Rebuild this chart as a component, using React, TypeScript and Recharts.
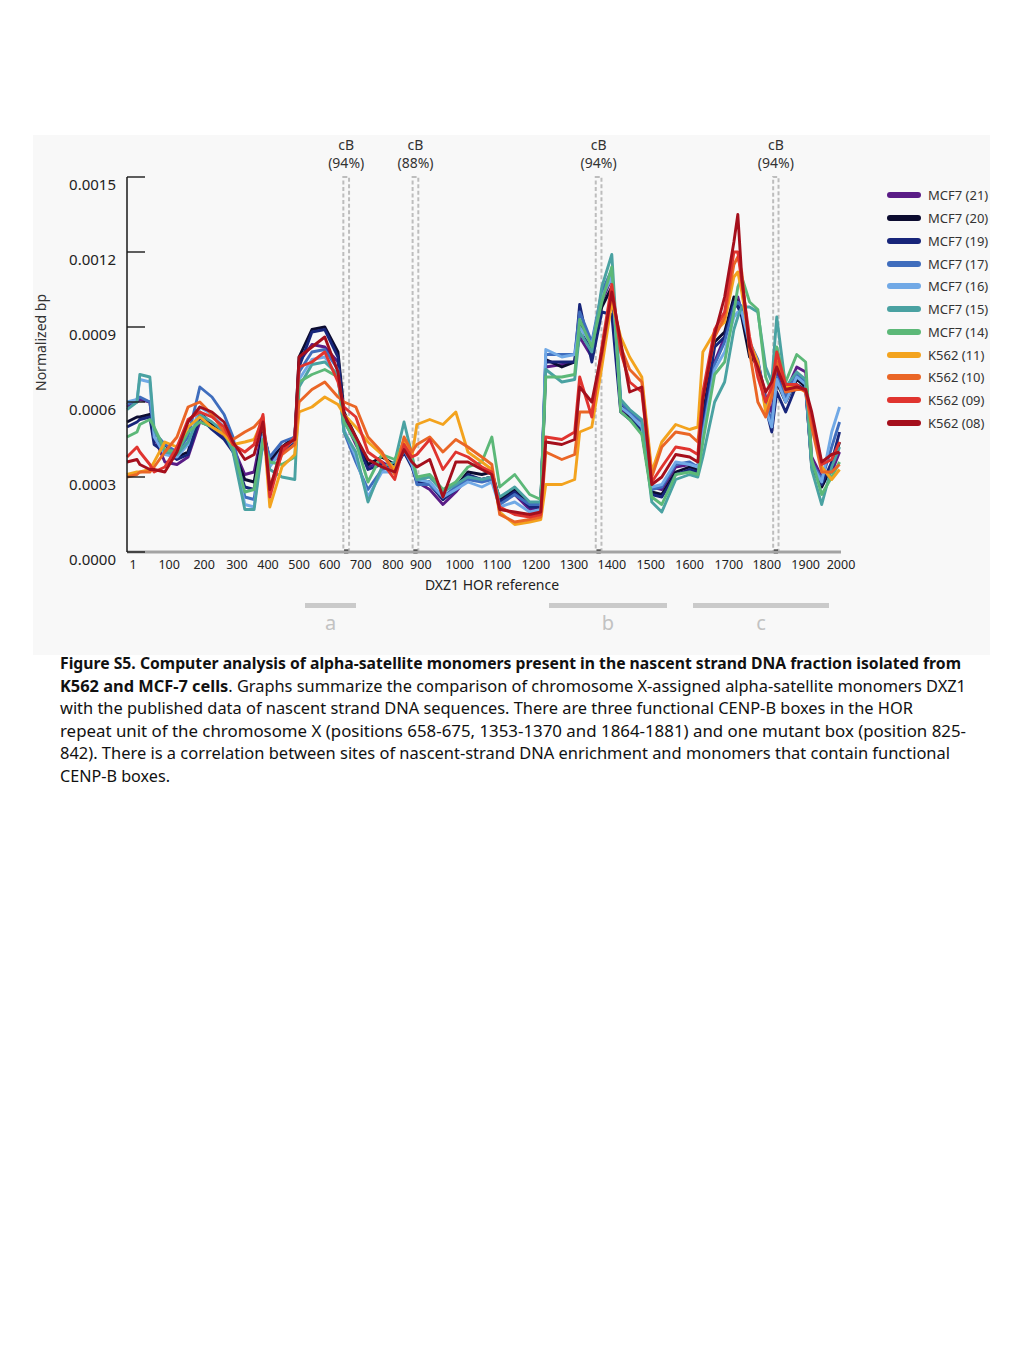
import React from 'react';
import { LineChart, Line, XAxis, YAxis, ReferenceArea, Label } from 'recharts';

// position along the drawn HOR axis (0..2000), shared by every series
const positions = [
  0, 28, 36, 64, 76, 106, 140, 171, 204, 238, 272, 297, 330, 356, 381, 400, 434, 470, 482, 518,
  554, 591, 608, 641, 675, 714, 750, 776, 798, 812, 848, 885, 921, 955, 994, 1022, 1044, 1086, 1128, 1159,
  1173, 1218, 1254, 1268, 1302, 1330, 1358, 1383, 1408, 1442, 1470, 1498, 1537, 1576, 1599, 1613, 1646, 1674, 1700, 1711,
  1722, 1744, 1767, 1789, 1806, 1820, 1845, 1876, 1901, 1918, 1946, 1974, 1996,
];

// values in units of 1e-4 normalized bp
const mcf7_21 = [
  5.8, 6.0, 6.1, 6.0, 4.6, 3.6, 3.5, 3.8, 5.2, 5.0, 4.6, 4.2, 3.1, 3.2, 5.0, 3.6, 4.1, 4.5, 7.6, 8.3,
  8.2, 7.6, 5.3, 4.3, 3.4, 3.6, 3.3, 4.0, 3.5, 2.8, 2.5, 1.9, 2.4, 3.0, 2.9, 3.0, 2.0, 2.3, 1.7, 1.8,
  7.4, 7.5, 7.6, 8.6, 7.8, 10.0, 11.0, 5.7, 5.5, 5.0, 2.6, 2.5, 3.4, 3.5, 3.4, 5.0, 7.6, 8.6, 10.0, 10.2,
  9.6, 8.0, 7.6, 6.2, 5.6, 7.2, 6.4, 7.4, 7.2, 3.8, 3.0, 3.2, 4.0,
];
const mcf7_20 = [
  5.2, 5.4, 5.4, 5.5, 4.5, 4.3, 3.8, 4.0, 5.6, 5.1, 4.8, 4.1, 2.9, 2.8, 4.8, 3.7, 4.2, 4.6, 7.8, 8.9,
  9.0, 8.0, 5.6, 4.6, 3.5, 3.8, 3.5, 4.2, 3.6, 2.9, 2.8, 2.1, 2.6, 3.2, 3.1, 3.2, 2.1, 2.5, 1.9, 1.9,
  7.7, 7.4, 7.6, 9.2, 8.0, 9.8, 10.6, 5.9, 5.4, 4.8, 2.4, 2.3, 3.2, 3.4, 3.3, 5.4, 8.4, 8.8, 10.2, 10.0,
  9.4, 7.8, 7.5, 6.0, 5.0, 6.8, 6.0, 6.9, 6.6, 3.4, 2.6, 3.4, 4.4,
];
const mcf7_19 = [
  5.0, 5.2, 5.3, 5.4, 4.3, 4.0, 3.7, 3.9, 5.4, 4.9, 4.5, 4.0, 2.6, 2.5, 4.6, 3.5, 4.0, 4.4, 7.4, 8.8,
  8.9, 7.8, 5.5, 4.5, 3.3, 3.5, 3.3, 4.0, 3.4, 2.8, 2.7, 2.1, 2.5, 3.1, 2.9, 3.0, 2.0, 2.4, 1.8, 1.8,
  7.6, 7.6, 7.6, 9.9, 7.6, 9.6, 9.5, 5.6, 5.3, 4.9, 2.3, 2.2, 3.1, 3.3, 3.2, 5.2, 8.2, 8.6, 10.0, 9.8,
  9.5, 8.2, 7.4, 5.8, 4.8, 6.4, 5.6, 6.7, 6.5, 3.5, 2.7, 3.6, 4.8,
];
const mcf7_17 = [
  5.9, 6.1, 6.2, 6.0, 4.8, 4.3, 4.0, 4.6, 6.6, 6.2, 5.5, 4.6, 2.2, 2.1, 4.7, 3.8, 4.4, 4.6, 7.2, 8.0,
  8.1, 7.3, 4.8, 3.6, 2.5, 3.3, 3.4, 4.3, 3.6, 2.7, 2.7, 2.2, 2.6, 2.9, 2.8, 2.9, 1.9, 2.3, 1.9, 1.9,
  7.9, 7.9, 7.9, 9.6, 8.4, 10.4, 11.3, 6.0, 5.6, 5.2, 2.5, 2.6, 3.5, 3.6, 3.4, 4.8, 7.5, 8.4, 9.8, 10.0,
  9.8, 8.4, 7.7, 6.0, 5.2, 7.0, 6.2, 7.1, 6.8, 3.6, 2.9, 4.2, 5.2,
];
const mcf7_16 = [
  6.0, 6.1, 6.9, 6.8, 4.6, 3.9, 3.8, 4.3, 5.8, 5.5, 5.0, 4.2, 1.9, 1.8, 4.6, 3.4, 4.1, 4.5, 6.9, 7.7,
  7.8, 7.0, 4.9, 3.8, 2.2, 3.2, 3.2, 4.1, 3.5, 2.9, 2.8, 2.2, 2.5, 2.8, 2.6, 2.8, 1.8, 2.0, 1.6, 1.7,
  8.1, 7.8, 7.9, 9.0, 8.3, 10.2, 11.0, 5.8, 5.5, 5.0, 2.6, 2.7, 3.6, 3.5, 3.4, 4.6, 7.3, 8.0, 9.4, 9.6,
  9.6, 8.3, 7.6, 5.7, 5.0, 6.9, 6.0, 7.0, 6.7, 3.5, 2.8, 4.8, 5.8,
];
const mcf7_15 = [
  5.7, 6.0, 7.1, 7.0, 4.9, 4.0, 3.9, 4.4, 5.5, 5.2, 4.8, 4.0, 1.7, 1.7, 4.4, 3.3, 3.0, 2.9, 6.6, 7.5,
  7.6, 7.1, 4.8, 4.0, 2.0, 3.4, 3.6, 5.2, 3.9, 2.9, 3.0, 2.4, 2.7, 3.0, 2.9, 3.0, 2.2, 2.6, 2.0, 2.0,
  7.3, 6.8, 6.9, 8.8, 8.0, 10.6, 11.9, 6.1, 5.7, 5.3, 2.0, 1.6, 2.9, 3.1, 3.0, 3.8, 6.0, 6.8, 8.9, 9.4,
  9.8, 9.8, 9.6, 7.4, 6.8, 9.4, 6.6, 7.2, 6.9, 3.3, 1.9, 3.4, 4.2,
];
const mcf7_14 = [
  4.6, 4.8, 5.1, 5.3, 5.0, 4.1, 4.0, 4.8, 5.2, 5.0, 4.7, 4.2, 2.4, 2.5, 4.5, 3.6, 3.5, 3.8, 6.8, 7.1,
  7.3, 7.0, 5.2, 4.4, 2.8, 3.9, 3.7, 4.4, 3.8, 3.0, 3.1, 2.5, 2.8, 3.4, 3.6, 4.6, 2.6, 3.1, 2.3, 2.1,
  7.0, 7.0, 7.1, 9.3, 8.2, 10.0, 11.4, 5.6, 5.3, 4.7, 2.2, 1.9, 3.1, 3.2, 3.1, 4.4, 7.1, 7.6, 9.6, 10.6,
  11.0, 10.0, 9.7, 7.0, 6.4, 8.2, 6.8, 7.9, 7.6, 3.7, 2.3, 3.0, 3.6,
];
const k562_11 = [
  3.1, 3.2, 3.2, 3.3, 3.6, 4.4, 4.2, 5.0, 5.4, 5.0, 4.7, 4.3, 4.4, 4.5, 5.3, 1.8, 3.4, 3.9, 5.6, 5.8,
  6.2, 5.9, 5.5, 5.0, 4.4, 3.9, 3.3, 4.5, 3.8, 5.1, 5.3, 5.1, 5.6, 4.0, 3.6, 3.3, 1.6, 1.1, 1.2, 1.3,
  2.7, 2.7, 2.9, 4.8, 5.0, 7.4, 10.0, 8.6, 7.8, 7.0, 3.2, 4.4, 5.1, 4.9, 5.0, 8.0, 8.8, 9.2, 11.0, 11.2,
  10.4, 8.4, 7.6, 5.6, 6.4, 7.8, 6.6, 6.6, 6.4, 5.2, 3.4, 2.9, 3.3,
];
const k562_10 = [
  3.0, 3.1, 3.2, 3.2, 3.4, 4.0, 4.6, 5.8, 6.0, 5.5, 4.8, 4.5, 4.8, 5.0, 5.4, 2.6, 3.9, 4.3, 6.0, 6.5,
  6.8, 6.2, 6.0, 5.8, 4.6, 4.0, 3.1, 4.6, 4.0, 4.3, 4.6, 4.0, 4.5, 4.2, 3.8, 3.5, 1.5, 1.2, 1.3, 1.4,
  4.0, 3.7, 3.9, 5.6, 5.6, 7.8, 10.4, 8.2, 7.3, 6.8, 3.0, 4.2, 4.8, 4.7, 4.4, 6.2, 8.6, 9.4, 11.5, 11.8,
  11.2, 8.0, 6.0, 5.4, 6.2, 7.6, 6.4, 6.5, 6.5, 5.0, 3.2, 3.2, 3.5,
];
const k562_09 = [
  3.8, 4.2, 4.0, 3.5, 3.2, 3.4, 4.2, 5.3, 5.6, 5.4, 5.0, 4.3, 4.0, 4.3, 5.5, 2.2, 4.0, 4.6, 7.4, 7.6,
  8.0, 6.8, 5.8, 5.4, 4.0, 3.6, 2.9, 4.3, 3.8, 3.9, 4.5, 3.3, 4.0, 3.8, 3.4, 3.2, 1.8, 1.5, 1.4, 1.5,
  4.6, 4.5, 4.8, 7.0, 5.4, 8.2, 10.7, 8.0, 6.8, 6.4, 2.8, 3.4, 4.2, 4.1, 3.9, 6.4, 8.9, 9.6, 12.0, 12.0,
  10.8, 8.6, 7.0, 6.0, 6.6, 8.0, 6.7, 6.7, 6.4, 5.4, 3.5, 3.7, 4.4,
];
const k562_08 = [
  3.6, 3.7, 3.5, 3.3, 3.3, 3.2, 4.0, 5.2, 5.8, 5.6, 5.2, 4.4, 3.7, 3.9, 5.2, 2.5, 4.2, 4.5, 7.8, 8.2,
  8.6, 7.2, 5.5, 4.6, 3.7, 3.4, 3.2, 4.1, 3.6, 3.4, 3.7, 2.2, 3.6, 3.6, 3.3, 3.1, 1.7, 1.6, 1.5, 1.6,
  4.4, 4.3, 4.5, 6.6, 6.0, 8.0, 10.4, 8.4, 6.4, 6.6, 2.7, 3.0, 3.9, 3.8, 3.6, 6.1, 8.7, 10.2, 12.4, 13.5,
  11.0, 8.2, 7.4, 6.4, 6.8, 7.4, 6.5, 6.6, 6.5, 5.6, 3.6, 3.9, 4.0,
];

const seriesNames = [
  'MCF7 (21)', 'MCF7 (20)', 'MCF7 (19)', 'MCF7 (17)', 'MCF7 (16)', 'MCF7 (15)', 'MCF7 (14)',
  'K562 (11)', 'K562 (10)', 'K562 (09)', 'K562 (08)',
];
const seriesColors = [
  '#5a1c86', '#0c0c30', '#17257a', '#3f6dbd', '#71a9e6', '#4aa2a2', '#5cb878',
  '#f3a31e', '#ea6626', '#e0342f', '#a50f1c',
];
const seriesValues = [mcf7_21, mcf7_20, mcf7_19, mcf7_17, mcf7_16, mcf7_15, mcf7_14, k562_11, k562_10, k562_09, k562_08];

// where the axis labels sit along the drawn axis, and what they read
const tickSpots = [17, 118, 216, 308, 395, 482, 568, 655, 745, 823, 932, 1036, 1145, 1252, 1358, 1467, 1576, 1686, 1792, 1901, 2000];
const tickLabels = ['1', '100', '200', '300', '400', '500', '600', '700', '800', '900', '1000', '1100', '1200', '1300', '1400', '1500', '1600', '1700', '1800', '1900', '2000'];

// CENP-B box markers
const cbStart = [606, 800, 1313, 1810];
const cbEnd = [622, 816, 1329, 1825];
const cbPct = ['94%', '88%', '94%', '94%'];

const yTicks = [0, 3, 6, 9, 12, 15];

const rows = positions.map((p, i) => {
  const r: any = { pos: p };
  seriesNames.forEach((n, j) => {
    r[n] = seriesValues[j][i];
  });
  return r;
});

const FONT = '"Noto Sans", "Open Sans", sans-serif';

const YTick = ({ x, y, payload }: any) => (
  <g>
    <line x1={x} x2={x + 18} y1={y} y2={y} stroke="#1a1a1a" strokeWidth={1.4} />
    <text x={x - 11} y={y} dy={12.5} textAnchor="end" fontSize={15} fill="#222" fontFamily={FONT}>
      {(payload.value * 1e-4).toFixed(4)}
    </text>
  </g>
);

const cbLabel = (pct: string) => (props: any) => {
  const { x, y, width } = props.viewBox;
  const cx = x + width / 2;
  return (
    <g fontFamily={FONT} fontSize={14} fill="#333" textAnchor="middle">
      <text x={cx} y={y - 27}>cB</text>
      <text x={cx} y={y - 9}>({pct})</text>
    </g>
  );
};

const captionLines = [
  { bold: 'Figure S5. Computer analysis of alpha-satellite monomers present in the nascent strand DNA fraction isolated from', rest: '', end: 961 },
  { bold: 'K562 and MCF-7 cells', rest: '. Graphs summarize the comparison of chromosome X-assigned alpha-satellite monomers DXZ1', end: 966 },
  { bold: '', rest: 'with the published data of nascent strand DNA sequences. There are three functional CENP-B boxes in the HOR', end: 913 },
  { bold: '', rest: 'repeat unit of the chromosome X (positions 658-675, 1353-1370 and 1864-1881) and one mutant box (position 825-', end: 966 },
  { bold: '', rest: '842). There is a correlation between sites of nascent-strand DNA enrichment and monomers that contain functional', end: 950 },
  { bold: '', rest: 'CENP-B boxes.', end: 170 },
];

const regionBars = [
  { name: 'a', left: 305, right: 356 },
  { name: 'b', left: 549, right: 667 },
  { name: 'c', left: 693, right: 829 },
];

export default function App() {
  return (
    <div style={{ position: 'absolute', left: 0, top: 0, width: 1024, height: 1365, background: '#fff', overflow: 'hidden', fontFamily: FONT }}>
      <div style={{ position: 'absolute', left: 33, top: 135, width: 957, height: 520, background: '#f8f8f8' }} />

      <div style={{ position: 'absolute', left: 0, top: 0 }}>
        <LineChart width={1024} height={640} data={rows} margin={{ top: 177, right: 183, bottom: 58, left: 0 }}>
          <XAxis
            dataKey="pos"
            type="number"
            domain={[0, 2000]}
            ticks={tickSpots}
            interval={0}
            tickFormatter={(v: number) => tickLabels[tickSpots.indexOf(v)]}
            tickLine={false}
            axisLine={{ stroke: '#a3a3a3', strokeWidth: 3 }}
            tick={{ fontSize: 12.5, fill: '#222', fontFamily: FONT }}
            height={30}
          >
            <Label
              content={(props: any) => {
                const { x, y, width } = props.viewBox;
                return (
                  <text x={x + width / 2 + 8} y={y + 38} textAnchor="middle" fontSize={14} fill="#222" fontFamily={FONT}>
                    DXZ1 HOR reference
                  </text>
                );
              }}
            />
          </XAxis>
          <YAxis
            type="number"
            domain={[0, 15]}
            ticks={yTicks}
            width={127}
            tickLine={false}
            tickSize={0}
            tickMargin={0}
            axisLine={{ stroke: '#1a1a1a', strokeWidth: 1.5 }}
            tick={<YTick />}
          >
            <Label
              content={(props: any) => {
                const { y, height } = props.viewBox;
                const cy = y + height / 2 - 22;
                return (
                  <text x={46} y={cy} transform={`rotate(-90 46 ${cy})`} textAnchor="middle" fontSize={14} fill="#333" fontFamily={FONT}>
                    Normalized bp
                  </text>
                );
              }}
            />
          </YAxis>
          {cbStart.map((s, i) => (
            <ReferenceArea
              key={`cb${i}`}
              x1={s}
              x2={cbEnd[i]}
              y1={0}
              y2={15}
              fill="none"
              fillOpacity={0}
              stroke="#bdbdbd"
              strokeWidth={2}
              strokeDasharray="4 2.5"
              ifOverflow="visible"
              label={cbLabel(cbPct[i])}
            />
          ))}
          {seriesNames.map((n, j) => (
            <Line
              key={n}
              dataKey={n}
              type="linear"
              stroke={seriesColors[j]}
              strokeWidth={2.9}
              strokeLinejoin="round"
              dot={false}
              isAnimationActive={false}
            />
          ))}
          {cbStart.map((s, i) => (
            <ReferenceArea
              key={`mk${i}`}
              x1={(s + cbEnd[i]) / 2 - 6}
              x2={(s + cbEnd[i]) / 2 + 6}
              y1={-0.06}
              y2={0.1}
              fill="#111"
              fillOpacity={1}
              stroke="none"
              ifOverflow="visible"
            />
          ))}
        </LineChart>
      </div>

      <div style={{ position: 'absolute', left: 887, top: 184 }}>
        {seriesNames.map((n, i) => (
          <div key={n} style={{ height: 22.75, display: 'flex', alignItems: 'center' }}>
            <div style={{ width: 34, height: 6, borderRadius: 3, background: seriesColors[i] }} />
            <span style={{ marginLeft: 7, fontSize: 13, color: '#333', whiteSpace: 'nowrap' }}>{n}</span>
          </div>
        ))}
      </div>

      {regionBars.map((b) => (
        <React.Fragment key={b.name}>
          <div style={{ position: 'absolute', left: b.left, top: 603, width: b.right - b.left, height: 5, background: '#cacaca' }} />
          <div style={{ position: 'absolute', left: (b.left + b.right) / 2 - 20, width: 40, top: 611, textAlign: 'center', fontSize: 20, color: '#c2c2c2', lineHeight: '24px' }}>
            {b.name}
          </div>
        </React.Fragment>
      ))}

      <svg style={{ position: 'absolute', left: 0, top: 650 }} width={1024} height={150}>
        {captionLines.map((l, i) => (
          <text
            key={i}
            x={60}
            y={19 + i * 22.55}
            fontSize={15.5}
            fill="#111"
            fontFamily={FONT}
            textLength={l.end - 60}
            lengthAdjust="spacingAndGlyphs"
          >
            {l.bold && <tspan fontWeight="bold">{l.bold}</tspan>}
            {l.rest && <tspan>{l.rest}</tspan>}
          </text>
        ))}
      </svg>
    </div>
  );
}
